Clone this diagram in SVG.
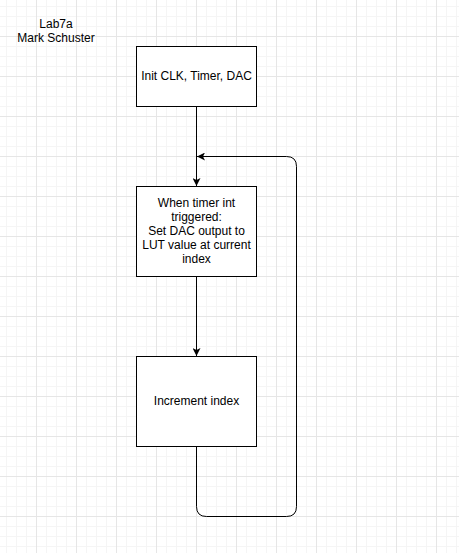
<svg xmlns="http://www.w3.org/2000/svg" width="459" height="553" viewBox="0 0 459 553">
  <style>
    .box { fill: #ffffff; stroke: #000000; stroke-width: 1; }
    .lbl { font-family: "Liberation Sans", Arial, sans-serif; font-size: 12px; fill: #000000; text-anchor: middle; }
    .edge { fill: none; stroke: #000000; stroke-width: 1; }
  </style>
  <defs>
    <pattern id="grid" patternUnits="userSpaceOnUse" x="36" y="36" width="40" height="40">
      <path d="M10.5,0 V40 M20.5,0 V40 M30.5,0 V40 M0,10.5 H40 M0,20.5 H40 M0,30.5 H40" stroke="#f5f5f5" stroke-width="1" fill="none"/>
      <path d="M0.5,0 V40 M0,0.5 H40" stroke="#e6e6e6" stroke-width="1" fill="none"/>
    </pattern>
    <marker id="arrow" viewBox="0 0 8 8" refX="8" refY="4" markerWidth="8" markerHeight="8" markerUnits="userSpaceOnUse" orient="auto">
      <path d="M0,0 L8,4 L0,8 L2,4 Z" fill="#000000"/>
    </marker>
  </defs>
  <rect x="0" y="0" width="459" height="553" fill="#ffffff"/>
  <rect x="0" y="0" width="459" height="553" fill="url(#grid)"/>

  <g id="title">
    <text class="lbl" x="56" y="28">Lab7a</text>
    <text class="lbl" x="56" y="42">Mark Schuster</text>
  </g>

  <g id="connectors">
    <path class="edge" d="M196.5,106 V186" marker-end="url(#arrow)"/>
    <path class="edge" d="M196.5,276 V356" marker-end="url(#arrow)"/>
    <path class="edge" d="M196.5,446 V506.5 Q196.5,516.5 206.5,516.5 H286.5 Q296.5,516.5 296.5,506.5 V166.5 Q296.5,156.5 286.5,156.5 H197" marker-end="url(#arrow)"/>
  </g>

  <g id="init">
    <rect class="box" x="136.5" y="46.5" width="120" height="60"/>
    <text class="lbl" x="196.5" y="80">Init CLK, Timer, DAC</text>
  </g>

  <g id="timer">
    <rect class="box" x="136.5" y="186.5" width="120" height="90"/>
    <text class="lbl" x="196.5" y="207">When timer int</text>
    <text class="lbl" x="196.5" y="221">triggered:</text>
    <text class="lbl" x="196.5" y="235">Set DAC output to</text>
    <text class="lbl" x="196.5" y="249">LUT value at current</text>
    <text class="lbl" x="196.5" y="263">index</text>
  </g>

  <g id="increment">
    <rect class="box" x="136.5" y="356.5" width="120" height="90"/>
    <text class="lbl" x="196.5" y="405">Increment index</text>
  </g>
</svg>
